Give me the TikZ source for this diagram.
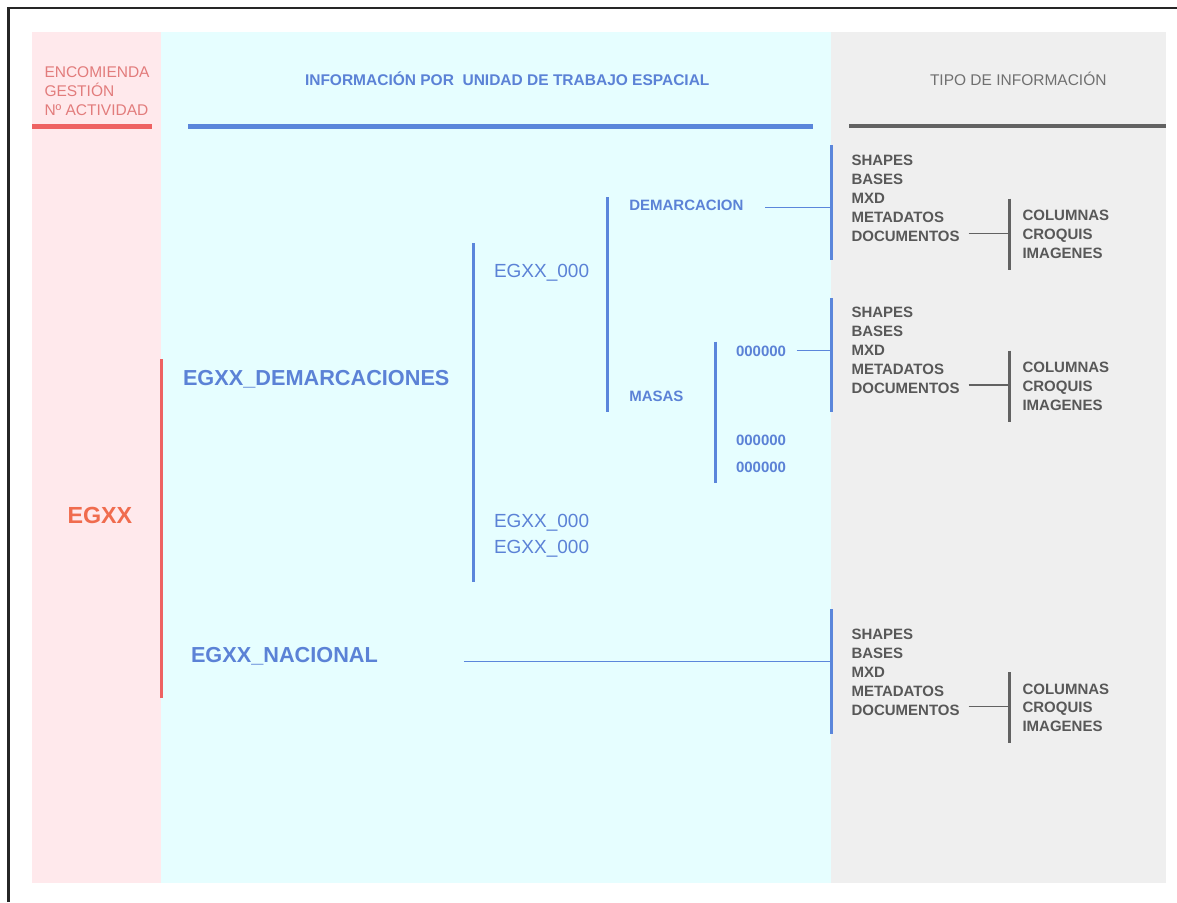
\documentclass[tikz,border=0pt]{standalone}
\usepackage{fontspec}
\setmainfont{Liberation Sans}

\definecolor{pinkbg}{HTML}{FFE9EC}
\definecolor{cyanbg}{HTML}{E6FEFF}
\definecolor{graybg}{HTML}{EFEFEF}
\definecolor{bluec}{HTML}{5B82D6}
\definecolor{bluerule}{HTML}{5B86DB}
\definecolor{redrule}{HTML}{EE6262}
\definecolor{salmon}{HTML}{E27C7C}
\definecolor{orangec}{HTML}{F06C4E}
\definecolor{grayt}{HTML}{585858}
\definecolor{grayhead}{HTML}{707070}
\definecolor{grayrule}{HTML}{626262}

\tikzset{
  txt/.style={anchor=base west, inner sep=0pt, outer sep=0pt},
  headred/.style={txt, text=salmon, font=\fontsize{15.5}{18}\selectfont},
  headblue/.style={txt, text=bluec, font=\bfseries\fontsize{15.5}{18}\selectfont},
  headgray/.style={txt, text=grayhead, font=\fontsize{15.5}{18}\selectfont},
  bigblue/.style={txt, text=bluec, font=\bfseries\fontsize{21.7}{26}\selectfont},
  egxx/.style={txt, text=orangec, font=\bfseries\fontsize{23.3}{28}\selectfont},
  midblue/.style={txt, text=bluec, font=\fontsize{19}{22}\selectfont},
  smallblue/.style={txt, text=bluec, font=\bfseries\fontsize{15}{18}\selectfont},
  tipo/.style={txt, text=grayt, font=\bfseries\fontsize{15}{18}\selectfont},
  bluebar/.style={draw=bluerule, line width=3pt},
  bluelink/.style={draw=bluerule, line width=1.3pt},
  graybar/.style={draw=grayrule, line width=3pt},
  graylink/.style={draw=grayrule, line width=1.3pt},
  redbar/.style={draw=redrule, line width=3pt},
  headrule/.style={line width=4.5pt},
}

% one block of information types: #1 = name prefix, #2 = baseline of the first row
\newcommand\tipoblock[2]{%
  \foreach \t [count=\i from 0] in {SHAPES,BASES,MXD,METADATOS,DOCUMENTOS}
    \node[tipo] (#1-\i) at (851.5,{#2+19*\i}) {\t};
  \foreach \t [count=\i from 0] in {COLUMNAS,CROQUIS,IMAGENES}
    \node[tipo] (#1-c\i) at (1022.5,{#2+55+18.8*\i}) {\t};
  \coordinate (#1-bt) at (1009.5,{#2+33});
  \coordinate (#1-bb) at (1009.5,{#2+104});
  \coordinate (#1-link) at (1009.5,{#2+67.5});
  \path (#1-4.east |- #1-link) ++(9,0) coordinate (#1-ls);
  \draw[graybar] (#1-bt) -- (#1-bb);
  \draw[graylink] (#1-ls) -- (#1-link);
}

\begin{document}
\begin{tikzpicture}[x=1pt,y=-1pt]
\useasboundingbox (0,0) rectangle (1177,902);
\fill[white] (0,0) rectangle (1177,902);

% outer frame
\draw[black!85, line width=2.5pt] (8.7,902) -- (8.7,8) -- (1177,8);

% column backgrounds
\fill[pinkbg] (32,32) rectangle (161,883);
\fill[cyanbg] (161,32) rectangle (830.5,883);
\fill[graybg] (830.5,32) rectangle (1166,883);

% column headings
\node[headred] (enc1) at (44.5,77.3) {ENCOMIENDA};
\node[headred] (enc2) at (44.5,96.3) {GESTIÓN};
\node[headred] (enc3) at (44.5,115.3) {Nº ACTIVIDAD};
\node[headblue] (info) at (305,85.7) {INFORMACIÓN POR\hspace{0.28em} UNIDAD DE TRABAJO ESPACIAL};
\node[headgray] (tipoh) at (930,85.7) {TIPO DE INFORMACIÓN};

\draw[redrule, headrule] (32,126.7) -- (152.3,126.7);
\draw[bluerule, headrule] (188.3,126.5) -- (813,126.5);
\draw[grayrule, line width=3.5pt] (849,126.2) -- (1165.7,126.2);

% left column
\node[egxx] (eg) at (67.5,523.3) {EGXX};
\coordinate (rt) at (161,359.3);
\coordinate (rb) at (161,698.3);
\draw[redbar] (rt) -- (rb);

% spatial units
\node[bigblue] (dem) at (183,385) {EGXX\_DEMARCACIONES};
\node[bigblue] (nac) at (191,662.7) {EGXX\_NACIONAL};

\coordinate (b1t) at (473.3,243);
\coordinate (b1b) at (473.3,582);
\draw[bluebar] (b1t) -- (b1b);
\node[midblue] (ex1) at (494,277.5) {EGXX\_000};
\node[midblue] (ex2) at (494,527) {EGXX\_000};
\node[midblue] (ex3) at (494,553) {EGXX\_000};

\coordinate (b2t) at (607.5,197);
\coordinate (b2b) at (607.5,411.7);
\draw[bluebar] (b2t) -- (b2b);
\node[smallblue] (demc) at (629.3,210) {DEMARCACION};
\node[smallblue] (masas) at (629.3,401) {MASAS};

\coordinate (b3t) at (715.3,341.7);
\coordinate (b3b) at (715.3,483.3);
\draw[bluebar] (b3t) -- (b3b);
\node[smallblue] (m1) at (736,356.7) {000000};
\node[smallblue] (m2) at (736,445.7) {000000};
\node[smallblue] (m3) at (736,472.7) {000000};

% bars in front of each block of information types
\coordinate (g1t) at (831,145);
\coordinate (g1b) at (831,260);
\coordinate (g2t) at (831,298);
\coordinate (g2b) at (831,411.7);
\coordinate (g3t) at (831,609.3);
\coordinate (g3b) at (831,734.3);
\draw[bluebar] (g1t) -- (g1b);
\draw[bluebar] (g2t) -- (g2b);
\draw[bluebar] (g3t) -- (g3b);

% links to the blocks
\coordinate (l1) at (831,207.3);
\path (demc.east |- l1) ++(22,0) coordinate (l1s);
\draw[bluelink] (l1s) -- (l1);
\coordinate (l2) at (831,350.7);
\path (m1.east |- l2) ++(10.5,0) coordinate (l2s);
\draw[bluelink] (l2s) -- (l2);
\coordinate (l3) at (831,661.7);
\path (nac.east |- l3) ++(86,0) coordinate (l3s);
\draw[bluelink] (l3s) -- (l3);

% information types
\tipoblock{ta}{165.7}
\tipoblock{tb}{317.5}
\tipoblock{tc}{639}
\end{tikzpicture}
\end{document}
